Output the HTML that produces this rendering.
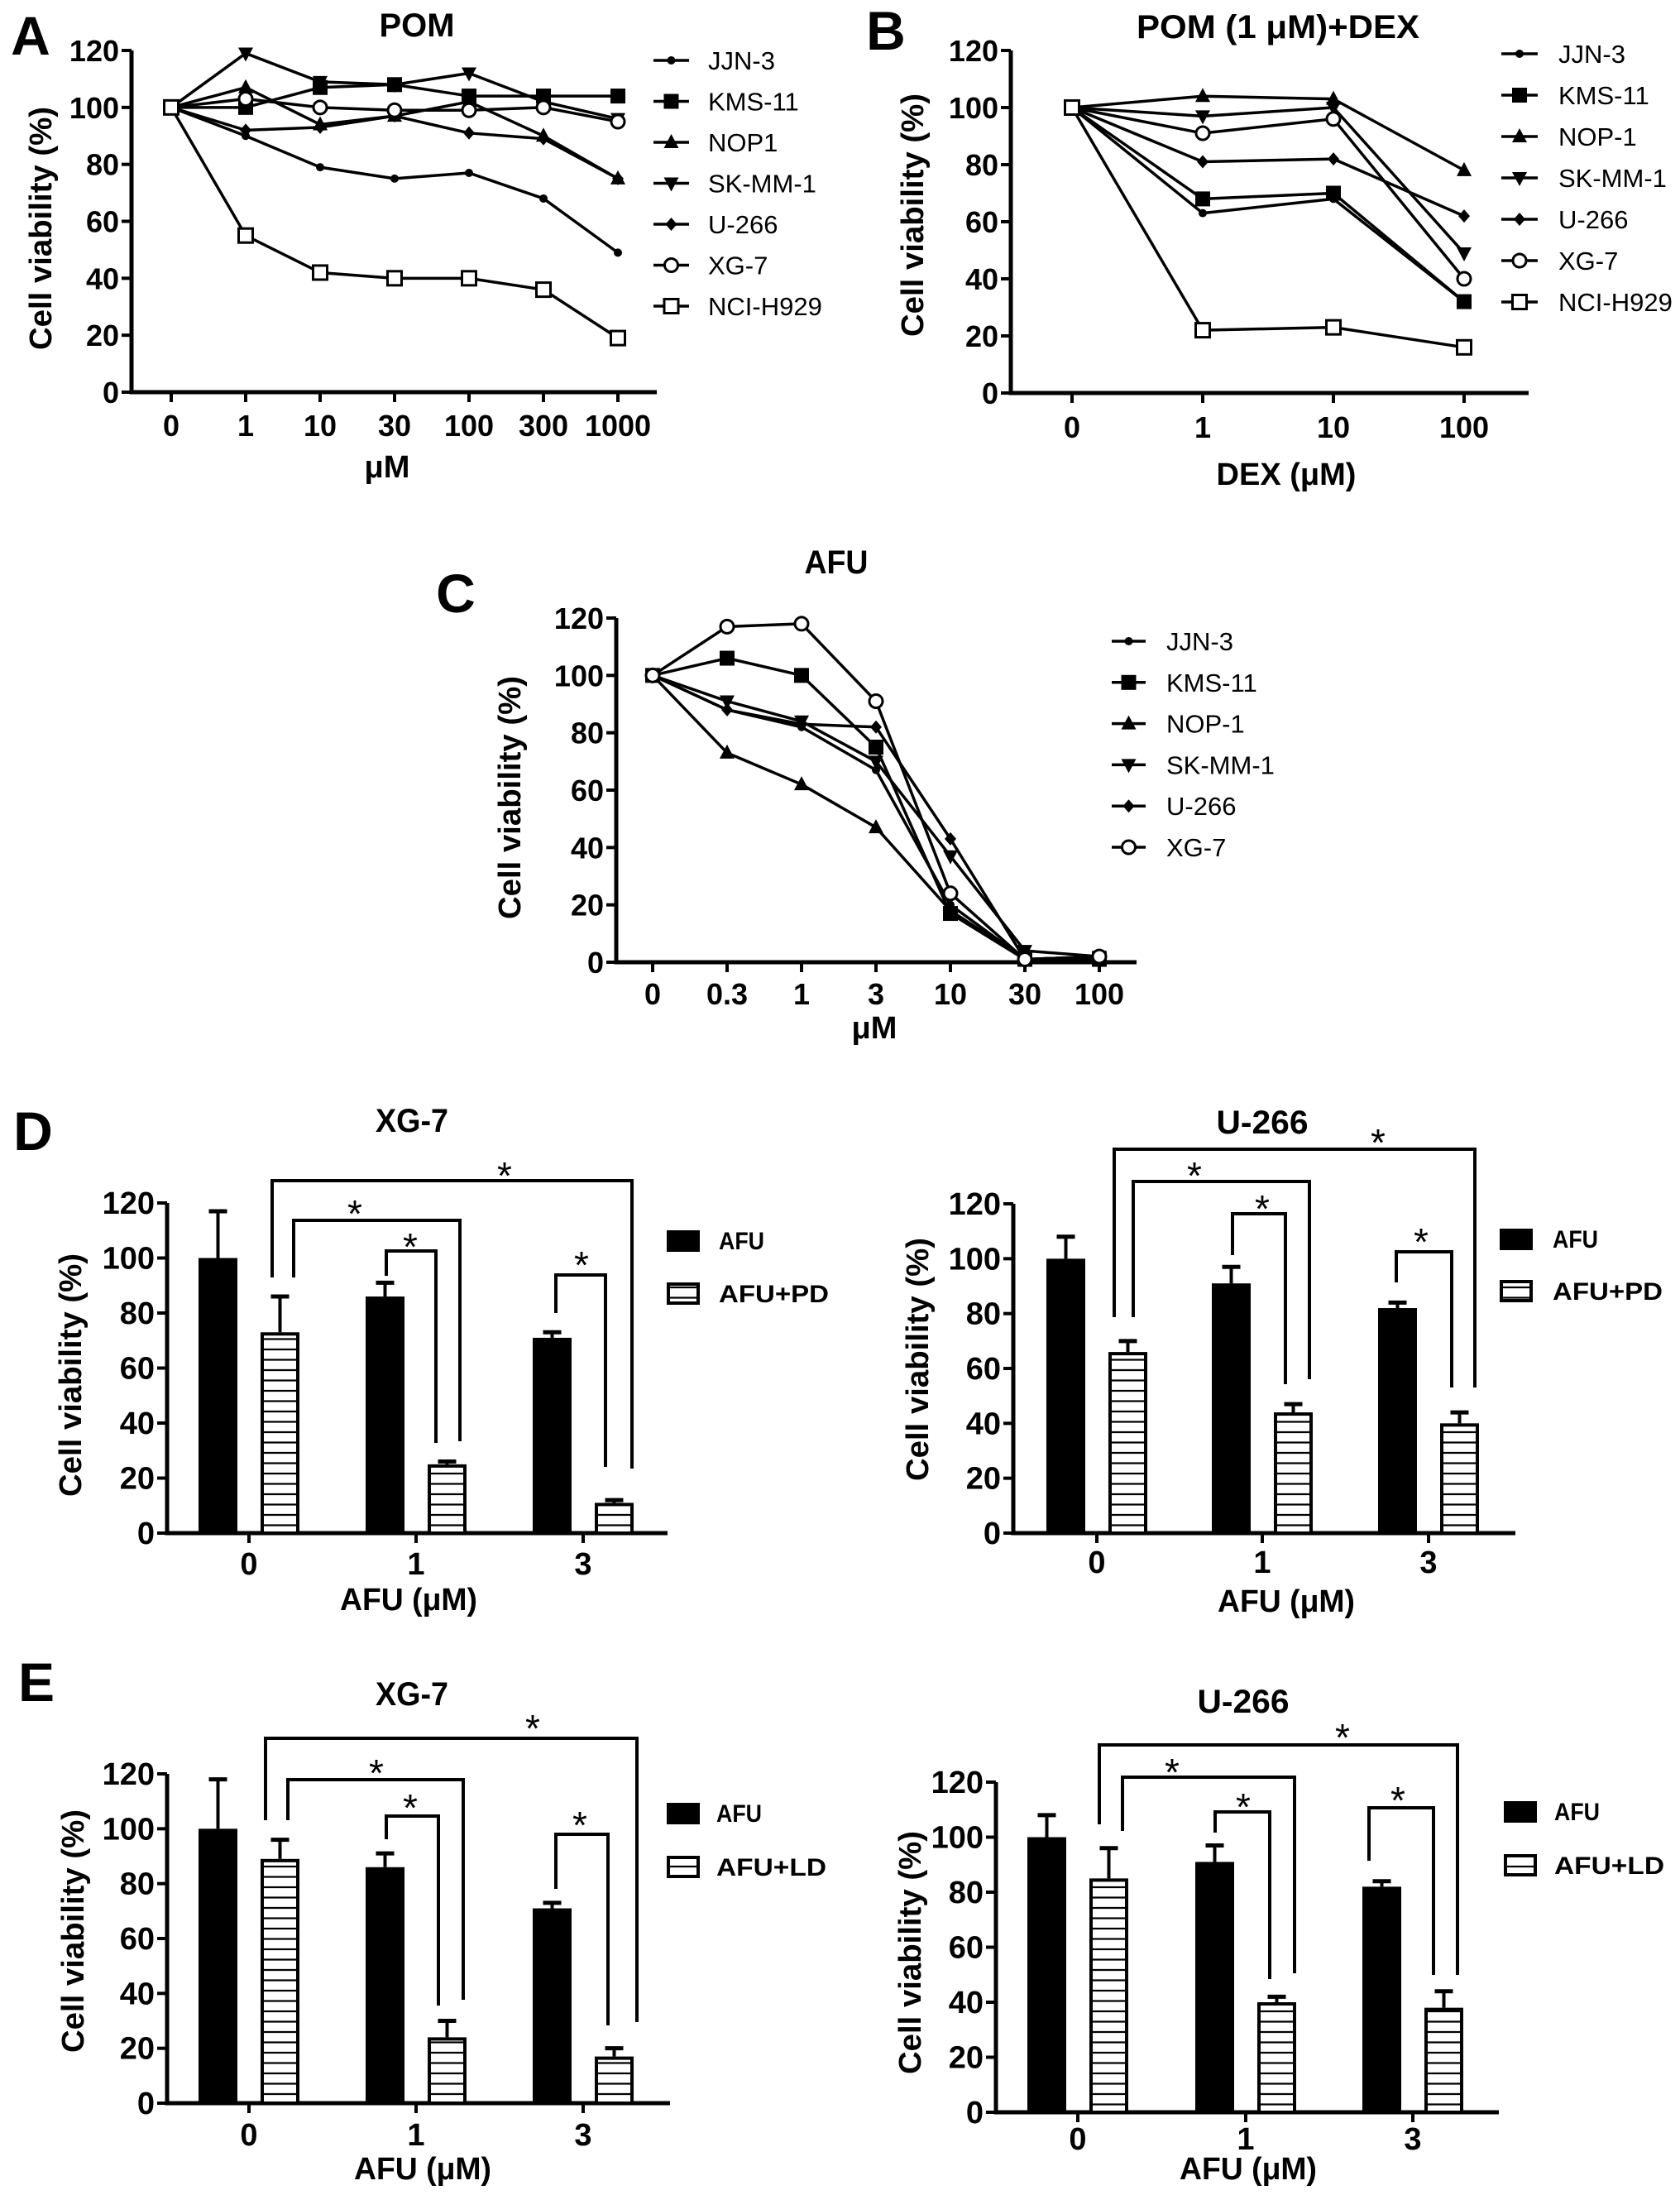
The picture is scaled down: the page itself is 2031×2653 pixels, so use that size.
<!DOCTYPE html>
<html><head><meta charset="utf-8"><style>
html,body{margin:0;padding:0;background:#fff}
svg{display:block}
text{font-family:"Liberation Sans",Arial,sans-serif;fill:#000}
</style></head><body>
<svg id="fig" width="2031" height="2653" viewBox="0 0 2031 2653" xmlns="http://www.w3.org/2000/svg">
<defs>
<pattern id="hatch" patternUnits="userSpaceOnUse" width="20" height="12.5">
<rect width="20" height="12.5" fill="#fff"/><line x1="0" y1="6" x2="20" y2="6" stroke="#000" stroke-width="2.2"/>
</pattern>
</defs>
</svg>
<script>
// ---- Panel A data (POM) ----
const aCats = ["0","1","10","30","100","300","1000"];
const aJJN3 = [100,90,79,75,77,68,49];
const aKMS11 = [100,100,107,108,104,104,104];
const aNOP1 = [100,107,94,97,102,90,75];
const aSKMM1 = [100,119,109,108,112,102,96];
const aU266 = [100,92,93,97,91,89,75];
const aXG7 = [100,103,100,99,99,100,95];
const aNCI = [100,55,42,40,40,36,19];
// ---- Panel B data (POM 1uM + DEX) ----
const bCats = ["0","1","10","100"];
const bJJN3 = [100,63,68,32];
const bKMS11 = [100,68,70,32];
const bNOP1 = [100,104,103,78];
const bSKMM1 = [100,97,100,49];
const bU266 = [100,81,82,62];
const bXG7 = [100,91,96,40];
const bNCI = [100,22,23,16];
// ---- Panel C data (AFU) ----
const cCats = ["0","0.3","1","3","10","30","100"];
const cJJN3 = [100,88,82,67,20,1,2];
const cKMS11 = [100,106,100,75,17,1,1];
const cNOP1 = [100,73,62,47,18,1,1];
const cSKMM1 = [100,91,84,70,37,4,2];
const cU266 = [100,88,83,82,43,1,1];
const cXG7 = [100,117,118,91,24,1,2];
// ---- Bar data ----
const barCats = ["0","1","3"];
const yTicks = [0,20,40,60,80,100,120];
const dXgAfu = [100,86,71];     const dXgAfuErr = [117,91,73];
const dXgPd = [73,25,11];       const dXgPdErr = [86,26,12];
const dUAfu = [100,91,82];      const dUAfuErr = [108,97,84];
const dUPd = [66,44,40];        const dUPdErr = [70,47,44];
const eXgAfu = [100,86,71];     const eXgAfuErr = [118,91,73];
const eXgLd = [89,24,17];       const eXgLdErr = [96,30,20];
const eUAfu = [100,91,82];      const eUAfuErr = [108,97,84];
const eULd = [85,40,38];        const eULdErr = [96,42,44];

const NS="http://www.w3.org/2000/svg";
const svg=document.getElementById('fig');
function el(tag,attrs,parent){const e=document.createElementNS(NS,tag);for(const k in attrs)e.setAttribute(k,attrs[k]);(parent||svg).appendChild(e);return e;}
function txt(s,attrs,parent){const t=el('text',attrs,parent);t.textContent=s;return t;}

function marker(g,type,x,y){
  let m;
  if(type==='dot'){m=el('circle',{cx:x,cy:y,r:5,fill:'#000'},g);}
  else if(type==='square'){m=el('rect',{x:x-9,y:y-9,width:18,height:18,fill:'#000'},g);}
  else if(type==='tri'){m=el('polygon',{points:`${x},${y-10} ${x-9},${y+7} ${x+9},${y+7}`,fill:'#000'},g);}
  else if(type==='itri'){m=el('polygon',{points:`${x},${y+10} ${x-9},${y-7} ${x+9},${y-7}`,fill:'#000'},g);}
  else if(type==='diamond'){m=el('polygon',{points:`${x},${y-8} ${x+7},${y} ${x},${y+8} ${x-7},${y}`,fill:'#000'},g);}
  else if(type==='ocircle'){m=el('circle',{cx:x,cy:y,r:8,fill:'#fff',stroke:'#000','stroke-width':3},g);}
  else if(type==='osquare'){m=el('rect',{x:x-8.5,y:y-8.5,width:17,height:17,fill:'#fff',stroke:'#000','stroke-width':3},g);}
  
  
}

function yAxis(g,L,fs){
  const ys=v=>L.y0-v*(L.y0-L.y120)/120;
  const ax=el('line',{x1:L.ax,y1:L.y120,x2:L.ax,y2:L.y0+2.5,stroke:'#000','stroke-width':5},g);
  
  
  yTicks.forEach(v=>{
    el('line',{x1:L.ax-12,y1:ys(v),x2:L.ax,y2:ys(v),stroke:'#000','stroke-width':4},g);
    const t=txt(String(v),{x:L.ax-15,y:ys(v)+13,'font-size':fs,'font-weight':'bold','text-anchor':'end'},g);
    
    
  });
  const xa=el('line',{x1:L.ax-2.5,y1:L.y0,x2:L.xEnd,y2:L.y0,stroke:'#000','stroke-width':5},g);
  
  
  const yt=txt('Cell viability (%)',{x:0,y:0,'font-size':38,'font-weight':'bold','text-anchor':'middle',textLength:294,lengthAdjust:'spacingAndGlyphs',transform:`translate(${L.ytX},${L.ytY}) rotate(-90)`},g);
  
  
  return ys;
}

function linePanel(name,L,cats,series){
  const g=el('g',{});
  
  
  const ys=yAxis(g,L,36);
  const xs=i=>L.x0+i*L.step;
  cats.forEach((c,i)=>{
    el('line',{x1:xs(i),y1:L.y0,x2:xs(i),y2:L.y0+12,stroke:'#000','stroke-width':4},g);
    const t=txt(c,{x:xs(i),y:L.tickY,'font-size':36,'font-weight':'bold','text-anchor':'middle'},g);
    
    
  });
  series.forEach((s,k)=>{
    const p=el('polyline',{points:s.vals.map((v,i)=>xs(i)+','+ys(v)).join(' '),fill:'none',stroke:'#000','stroke-width':3.5,'stroke-linejoin':'round'},g);
    
    
  });
  series.forEach(s=>{s.vals.forEach((v,i)=>marker(g,s.mk,xs(i),ys(v)));});
  series.forEach((s,k)=>{
    const ly=L.legY+k*L.legStep;
    const lg=el('g',{},g);
    
    
    el('line',{x1:L.legX1,y1:ly,x2:L.legX2,y2:ly,stroke:'#000','stroke-width':3.5},lg);
    marker(lg,s.mk,(L.legX1+L.legX2)/2,ly);
    txt(s.name,{x:L.legT,y:ly+11,'font-size':31},lg);
  });
  const tt=txt(L.title,{x:L.titleX,y:L.titleY,'font-size':40,'font-weight':'bold','text-anchor':'middle',textLength:L.titleW,lengthAdjust:'spacingAndGlyphs'},g);
  
  
  const xt=txt(L.xTitle,{x:L.xtX,y:L.xtY,'font-size':38,'font-weight':'bold','text-anchor':'middle'},g);
  
  
  const pl=txt(L.letter,{x:L.letX,y:L.letY,'font-size':66,'font-weight':'bold','text-anchor':'middle'},g);
  
  
}

function barPanel(name,L,cats,afu,afuErr,hat,hatErr,hatLabel,brackets){
  const g=el('g',{});
  
  
  const ys=yAxis(g,L,38);
  const W=47;
  cats.forEach((c,i)=>{
    const t0=L.ticks[i];
    el('line',{x1:t0,y1:L.y0,x2:t0,y2:L.y0+12,stroke:'#000','stroke-width':4},g);
    const t=txt(c,{x:t0,y:L.tickY,'font-size':38,'font-weight':'bold','text-anchor':'middle'},g);
    
    
    // error bars
    const bx=t0-61+W/2, hx=t0+14+W/2;
    el('line',{x1:bx,y1:ys(afu[i]),x2:bx,y2:ys(afuErr[i]),stroke:'#000','stroke-width':4},g);
    el('line',{x1:bx-11,y1:ys(afuErr[i]),x2:bx+11,y2:ys(afuErr[i]),stroke:'#000','stroke-width':5},g);
    el('line',{x1:hx,y1:ys(hat[i]),x2:hx,y2:ys(hatErr[i]),stroke:'#000','stroke-width':4},g);
    el('line',{x1:hx-11,y1:ys(hatErr[i]),x2:hx+11,y2:ys(hatErr[i]),stroke:'#000','stroke-width':5},g);
    const b=el('rect',{x:t0-61,y:ys(afu[i]),width:W,height:L.y0-ys(afu[i]),fill:'#000'},g);
    
    
    const h=el('rect',{x:t0+14+2,y:ys(hat[i])+2,width:W-4,height:L.y0-ys(hat[i])-2,fill:'url(#hatch)',stroke:'#000','stroke-width':4},g);
    
    
  });
  brackets.forEach(b=>{
    const [x1,x2,yt,yl,yr,sx,sy]=b;
    const p=el('polyline',{points:`${x1},${yl} ${x1},${yt} ${x2},${yt} ${x2},${yr}`,fill:'none',stroke:'#000','stroke-width':4},g);
    
    
    const s=txt('*',{x:sx,y:sy+25,'font-size':46,'text-anchor':'middle'},g);
    
    
  });
  // legend
  const l1=el('g',{},g);
  
  
  el('rect',{x:L.legX,y:L.legY1,width:40,height:26,fill:'#000'},l1);
  txt('AFU',{x:L.legT,y:L.legY1+23,'font-size':30,'font-weight':'bold',textLength:55,lengthAdjust:'spacingAndGlyphs'},l1);
  const l2=el('g',{},g);
  
  
  el('rect',{x:L.legX+2,y:L.legY2+2,width:36,height:23,fill:'url(#hatch)',stroke:'#000','stroke-width':4},l2);
  txt(hatLabel,{x:L.legT,y:L.legY2+24,'font-size':30,'font-weight':'bold',textLength:133,lengthAdjust:'spacingAndGlyphs'},l2);
  const tt=txt(L.title,{x:L.titleX,y:L.titleY,'font-size':40,'font-weight':'bold','text-anchor':'middle',textLength:L.titleW,lengthAdjust:'spacingAndGlyphs'},g);
  
  
  const xt=txt('AFU (\u03BCM)',{x:L.xtX,y:L.xtY,'font-size':38,'font-weight':'bold','text-anchor':'middle',textLength:166,lengthAdjust:'spacingAndGlyphs'},g);
  
  
  if(L.letter){
    const pl=txt(L.letter,{x:L.letX,y:L.letY,'font-size':66,'font-weight':'bold','text-anchor':'middle'},g);
    
    
  }
}

const names=["JJN-3","KMS-11","NOP1","SK-MM-1","U-266","XG-7","NCI-H929"];
const mks=['dot','square','tri','itri','diamond','ocircle','osquare'];
linePanel('panel-a-pom',{ax:159,x0:207,step:90,y0:474,y120:61,xEnd:794,tickY:527,legX1:790,legX2:833,legT:856,legY:73,legStep:49.5,
  title:'POM',titleX:504,titleY:44,titleW:91,xTitle:'\u03BCM',xtX:468,xtY:577,letter:'A',letX:37,letY:66,ytX:62,ytY:276},
  aCats,[aJJN3,aKMS11,aNOP1,aSKMM1,aU266,aXG7,aNCI].map((v,i)=>({name:names[i],vals:v,mk:mks[i]})));
const namesB=["JJN-3","KMS-11","NOP-1","SK-MM-1","U-266","XG-7","NCI-H929"];
linePanel('panel-b-pom-dex',{ax:1222,x0:1296,step:158,y0:475,y120:61,xEnd:1848,tickY:529,legX1:1815,legX2:1859,legT:1884,legY:65,legStep:50,
  title:'POM (1 \u03BCM)+DEX',titleX:1545,titleY:46,titleW:342,xTitle:'DEX (\u03BCM)',xtX:1555,xtY:586,letter:'B',letX:1071,letY:60,ytX:1116,ytY:260},
  bCats,[bJJN3,bKMS11,bNOP1,bSKMM1,bU266,bXG7,bNCI].map((v,i)=>({name:namesB[i],vals:v,mk:mks[i]})));
linePanel('panel-c-afu',{ax:745,x0:789,step:90,y0:1163,y120:747,xEnd:1374,tickY:1214,legX1:1344,legX2:1385,legT:1410,legY:775,legStep:49.8,
  title:'AFU',titleX:1011,titleY:693,titleW:77,xTitle:'\u03BCM',xtX:1057,xtY:1255,letter:'C',letX:551,letY:740,ytX:629,ytY:964},
  cCats,[cJJN3,cKMS11,cNOP1,cSKMM1,cU266,cXG7].map((v,i)=>({name:namesB[i],vals:v,mk:mks[i]})));

barPanel('panel-d-xg7',{ax:202,ticks:[301,503,705],y0:1853,y120:1454,xEnd:807,tickY:1903,legX:806,legY1:1487,legY2:1550,legT:869,
  title:'XG-7',titleX:498,titleY:1368,titleW:88,xtX:494,xtY:1946,letter:'D',letX:40,letY:1390,ytX:98,ytY:1662},
  barCats,dXgAfu,dXgAfuErr,dXgPd,dXgPdErr,'AFU+PD',
  [[329,764,1427,1544,1775,610,1412],[355,556,1475,1544,1742,429,1458],[467,527,1512,1542,1744,496,1498],[672,732,1541,1587,1773,703,1520]]);
barPanel('panel-d-u266',{ax:1225,ticks:[1326,1526,1727],y0:1853,y120:1455,xEnd:1832,tickY:1901,legX:1813,legY1:1485,legY2:1547,legT:1877,
  title:'U-266',titleX:1526,titleY:1370,titleW:111,xtX:1555,xtY:1948,ytX:1122,ytY:1643},
  barCats,dUAfu,dUAfuErr,dUPd,dUPdErr,'AFU+PD',
  [[1347,1783,1389,1592,1677,1666,1372],[1370,1583,1428,1592,1667,1444,1412],[1490,1554,1467,1517,1673,1526,1452],[1688,1755,1513,1550,1677,1718,1492]]);
barPanel('panel-e-xg7',{ax:202,ticks:[301,503,705],y0:2542,y120:2144,xEnd:810,tickY:2593,legX:806,legY1:2179,legY2:2243,legT:866,
  title:'XG-7',titleX:498,titleY:2061,titleW:88,xtX:511,xtY:2634,letter:'E',letX:44,letY:2056,ytX:101,ytY:2334},
  barCats,eXgAfu,eXgAfuErr,eXgLd,eXgLdErr,'AFU+LD',
  [[321,770,2101,2200,2444,644,2080],[348,560,2151,2200,2417,455,2134],[467,530,2195,2223,2424,496,2176],[672,735,2217,2283,2448,701,2197]]);
barPanel('panel-e-u266',{ax:1204,ticks:[1303,1506,1708],y0:2553,y120:2154,xEnd:1812,tickY:2598,legX:1818,legY1:2177,legY2:2241,legT:1879,
  title:'U-266',titleX:1503,titleY:2070,titleW:111,xtX:1509,xtY:2634,ytX:1113,ytY:2360},
  barCats,eUAfu,eUAfuErr,eULd,eULdErr,'AFU+LD',
  [[1329,1762,2109,2205,2387,1623,2091],[1357,1565,2148,2213,2385,1417,2133],[1469,1535,2190,2215,2392,1503,2175],[1655,1733,2185,2249,2387,1690,2167]]);
</script>
</body></html>
